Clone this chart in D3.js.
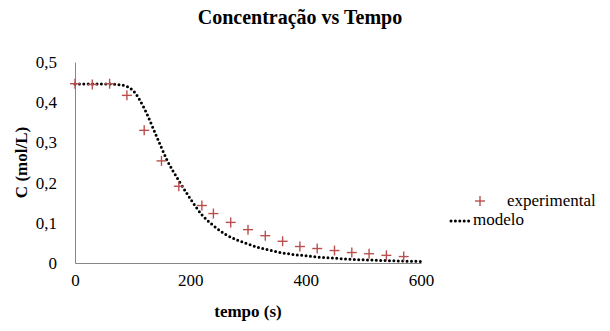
<!DOCTYPE html>
<html>
  <head>
    <meta charset="utf-8">
    <title>Concentração vs Tempo</title>
    <script src="https://d3js.org/d3.v7.min.js"></script>
    <style>
      body { margin: 0; background: #fff; }
      svg text { font-family: "Liberation Serif", "Times New Roman", Times, "DejaVu Serif", serif; }
      .axis path { stroke: #868686; }
      .axis text { font-size: 17px; fill: #000; }
      .model { fill: none; stroke: #000; stroke-width: 3; stroke-linecap: round; stroke-dasharray: 0 4.4; }
      .cross { stroke: #b8504f; stroke-width: 1.4; }
    </style>
  </head>
  <body>
    <svg width="610" height="331"></svg>
    <script>
    // experimental points
    const expTime = [0, 30, 60, 90, 120, 150, 180, 220, 240, 270, 300, 330, 360, 390, 420, 450, 480, 510, 540, 570];
    const expConc = [0.446, 0.444, 0.446, 0.417, 0.330, 0.254, 0.191, 0.143, 0.123, 0.101, 0.083, 0.068, 0.054, 0.041, 0.036, 0.031, 0.026, 0.023, 0.019, 0.016];

    // model curve
    const modelTime = [0, 20, 40, 60, 80, 100, 120, 140, 160, 180, 200, 220, 240, 260, 280, 300, 320, 340, 360, 380, 400, 420, 440, 460, 480, 500, 520, 540, 560, 580, 600];
    const modelConc = [0.445, 0.445, 0.445, 0.445, 0.443, 0.43, 0.385, 0.32, 0.255, 0.205, 0.16, 0.12, 0.093, 0.072, 0.058, 0.047, 0.038, 0.031, 0.025, 0.021, 0.018, 0.015, 0.013, 0.011, 0.009, 0.008, 0.007, 0.006, 0.005, 0.0045, 0.004];

    const xTicks = [0, 200, 400, 600];
    const yTicks = [0, 0.1, 0.2, 0.3, 0.4, 0.5];
    const yTickLabels = ["0", "0,1", "0,2", "0,3", "0,4", "0,5"];

    const svg = d3.select("svg");
    const x = d3.scaleLinear().domain([0, 600]).range([75, 421]);
    const y = d3.scaleLinear().domain([0, 0.5]).range([263, 62]);

    svg.append("text")
      .attr("x", 300).attr("y", 24)
      .attr("text-anchor", "middle")
      .style("font-size", "20px").style("font-weight", "bold")
      .text("Concentração vs Tempo");

    svg.append("g")
      .attr("class", "axis")
      .attr("transform", `translate(0,${y(0)})`)
      .call(d3.axisBottom(x).tickValues(xTicks).tickSize(0).tickPadding(11).tickSizeOuter(0))
      .call(g => g.selectAll("text").attr("dy", "0.71em"));

    svg.append("g")
      .attr("class", "axis")
      .attr("transform", `translate(${x(0)},0)`)
      .call(d3.axisLeft(y).tickValues(yTicks).tickSize(0).tickPadding(18).tickSizeOuter(0)
        .tickFormat((d, i) => yTickLabels[i]));

    svg.selectAll(".axis").attr("font-family", null);

    svg.append("text")
      .attr("x", (x(0) + x(600)) / 2).attr("y", 317)
      .attr("text-anchor", "middle")
      .style("font-size", "17px").style("font-weight", "bold")
      .text("tempo (s)");

    svg.append("text")
      .attr("transform", "rotate(-90)")
      .attr("x", -(y(0) + y(0.5)) / 2).attr("y", 27)
      .attr("text-anchor", "middle")
      .style("font-size", "17px").style("font-weight", "bold")
      .text("C (mol/L)");

    const line = d3.line()
      .x((d, i) => x(modelTime[i]))
      .y(d => y(d))
      .curve(d3.curveMonotoneX);

    svg.append("path")
      .datum(modelConc)
      .attr("class", "model")
      .attr("d", line);

    const cross = (g, s) => {
      g.append("line").attr("class", "cross").attr("x1", -s).attr("x2", s).attr("y1", 0).attr("y2", 0);
      g.append("line").attr("class", "cross").attr("x1", 0).attr("x2", 0).attr("y1", -s).attr("y2", s);
    };

    svg.append("g").selectAll("g")
      .data(expConc)
      .join("g")
      .attr("transform", (d, i) => `translate(${x(expTime[i])},${y(d)})`)
      .each(function () { cross(d3.select(this), 5); });

    // legend
    const legend = svg.append("g");
    cross(legend.append("g").attr("transform", "translate(480,201)"), 5);
    legend.append("text")
      .attr("x", 507).attr("y", 206)
      .style("font-size", "17px")
      .text("experimental");
    legend.append("line")
      .attr("class", "model")
      .attr("x1", 451).attr("x2", 471)
      .attr("y1", 221).attr("y2", 221);
    legend.append("text")
      .attr("x", 473).attr("y", 225)
      .style("font-size", "17px")
      .text("modelo");
    </script>
  </body>
</html>
